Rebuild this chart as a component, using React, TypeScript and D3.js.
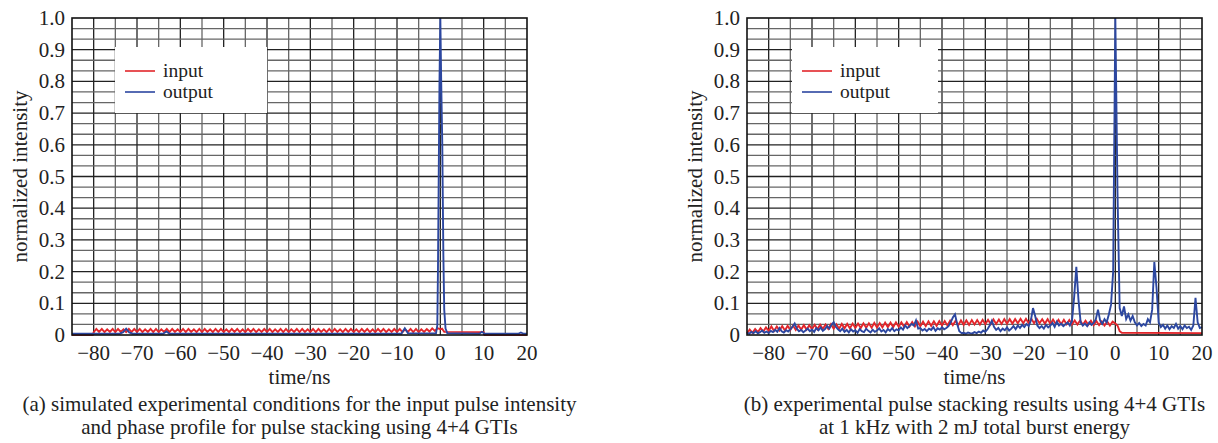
import React from "react";
import * as d3 from "d3";

// axis ticks
const xTicks = [-80, -70, -60, -50, -40, -30, -20, -10, 0, 10, 20];
const xTickLabels = ["\u221280", "\u221270", "\u221260", "\u221250", "\u221240", "\u221230", "\u221220", "\u221210", "0", "10", "20"];
const yTicks = [0, 0.1, 0.2, 0.3, 0.4, 0.5, 0.6, 0.7, 0.8, 0.9, 1.0];
const yTickLabels = ["0", "0.1", "0.2", "0.3", "0.4", "0.5", "0.6", "0.7", "0.8", "0.9", "1.0"];
const seriesNames = ["input", "output"];

// (a) simulated: input ripple sampled every 0.625 ns from -80 ns to 0 ns
const simInputStart = -80;
const simInputStep = 0.625;
const simInputRipple = [
  0.009, 0.019, 0.010, 0.019, 0.009, 0.018, 0.010, 0.019,
  0.009, 0.019, 0.010, 0.018, 0.009, 0.019, 0.010, 0.019,
  0.010, 0.019, 0.009, 0.018, 0.010, 0.019, 0.009, 0.019,
  0.009, 0.018, 0.010, 0.019, 0.009, 0.019, 0.010, 0.018,
  0.010, 0.019, 0.009, 0.019, 0.010, 0.018, 0.009, 0.019,
  0.009, 0.019, 0.010, 0.018, 0.009, 0.019, 0.010, 0.019,
  0.010, 0.018, 0.009, 0.019, 0.010, 0.019, 0.009, 0.018,
  0.009, 0.019, 0.010, 0.019, 0.009, 0.018, 0.010, 0.019,
  0.010, 0.019, 0.009, 0.018, 0.010, 0.019, 0.009, 0.019,
  0.009, 0.018, 0.010, 0.019, 0.009, 0.019, 0.010, 0.018,
  0.010, 0.019, 0.009, 0.019, 0.010, 0.018, 0.009, 0.019,
  0.009, 0.019, 0.010, 0.018, 0.009, 0.019, 0.010, 0.019,
  0.010, 0.018, 0.009, 0.019, 0.010, 0.019, 0.009, 0.018,
  0.009, 0.019, 0.010, 0.019, 0.009, 0.018, 0.010, 0.019,
  0.010, 0.019, 0.009, 0.018, 0.010, 0.019, 0.009, 0.019,
  0.009, 0.018, 0.010, 0.019, 0.011, 0.021, 0.013, 0.022,
  0.018,
];
const simInputHead: [number, number][] = [[-85, 0], [-80.2, 0]];
const simInputTail: [number, number][] = [[0.4, 0.02], [0.9, 0.01], [10, 0.009], [10.2, 0], [20, 0]];

const simOutput: [number, number][] = [
  [-85, 0.004], [-74, 0.004], [-73.2, 0.009], [-72.5, 0.02], [-71.8, 0.008], [-71, 0.004],
  [-64, 0.004], [-63.2, 0.011], [-62.5, 0.004], [-9, 0.004], [-8.2, 0.021], [-7.5, 0.006],
  [-1, 0.005], [-0.7, 0.03], [-0.55, 0.2], [-0.4, 0.45], [-0.2, 0.79], [0, 1.0], [0.2, 0.8],
  [0.45, 0.6], [0.7, 0.25], [0.9, 0.08], [1.2, 0.02], [1.6, 0.006], [9, 0.004], [9.6, 0.01],
  [10.2, 0.004], [18, 0.004], [18.6, 0.008], [19.2, 0.004], [20, 0.004],
];

// (b) experimental: input sampled every 0.625 ns from -85 ns to 0 ns
const expInputStart = -85;
const expInputStep = 0.625;
const expInputRipple = [
  0.005, 0.017, 0.007, 0.019, 0.009, 0.022, 0.011, 0.024,
  0.013, 0.027, 0.013, 0.027, 0.014, 0.028, 0.014, 0.029,
  0.016, 0.030, 0.016, 0.030, 0.017, 0.031, 0.017, 0.031,
  0.018, 0.032, 0.018, 0.033, 0.019, 0.033, 0.019, 0.034,
  0.020, 0.034, 0.020, 0.035, 0.021, 0.035, 0.021, 0.036,
  0.022, 0.036, 0.022, 0.037, 0.023, 0.037, 0.023, 0.038,
  0.024, 0.038, 0.024, 0.039, 0.025, 0.039, 0.025, 0.040,
  0.026, 0.040, 0.026, 0.041, 0.027, 0.041, 0.027, 0.042,
  0.028, 0.042, 0.028, 0.043, 0.029, 0.043, 0.029, 0.044,
  0.030, 0.044, 0.030, 0.045, 0.031, 0.045, 0.031, 0.046,
  0.032, 0.046, 0.032, 0.047, 0.033, 0.047, 0.033, 0.048,
  0.034, 0.048, 0.034, 0.049, 0.035, 0.049, 0.035, 0.050,
  0.036, 0.050, 0.036, 0.050, 0.037, 0.051, 0.037, 0.051,
  0.037, 0.051, 0.037, 0.051, 0.037, 0.050, 0.036, 0.050,
  0.035, 0.049, 0.035, 0.048, 0.034, 0.048, 0.034, 0.047,
  0.033, 0.046, 0.033, 0.046, 0.032, 0.045, 0.032, 0.045,
  0.031, 0.044, 0.031, 0.043, 0.030, 0.043, 0.030, 0.042,
  0.036,
];
const expInputTail: [number, number][] = [[0.5, 0.03], [1.0, 0.012], [1.5, 0.007], [20, 0.006]];

// (b) experimental: output sampled every 0.5 ns from -85 ns to 20 ns
const expOutputStart = -85;
const expOutputStep = 0.5;
const expOutput = [
  0.008, 0.004, 0.010, 0.006, 0.012, 0.005, 0.009, 0.014, 0.007, 0.011,
  0.006, 0.013, 0.009, 0.016, 0.010, 0.022, 0.012, 0.008, 0.015, 0.011,
  0.018, 0.026, 0.036, 0.020, 0.012, 0.016, 0.009, 0.014, 0.020, 0.012,
  0.017, 0.010, 0.022, 0.015, 0.024, 0.013, 0.019, 0.028, 0.020, 0.032,
  0.040, 0.026, 0.018, 0.012, 0.020, 0.010, 0.016, 0.008, 0.018, 0.011,
  0.015, 0.007, 0.019, 0.012, 0.009, 0.020, 0.013, 0.008, 0.017, 0.010,
  0.014, 0.021, 0.011, 0.016, 0.008, 0.019, 0.013, 0.022, 0.012, 0.018,
  0.015, 0.024, 0.017, 0.030, 0.022, 0.028, 0.035, 0.030, 0.046, 0.020,
  0.022, 0.014, 0.019, 0.012, 0.020, 0.016, 0.025, 0.013, 0.021, 0.017,
  0.024, 0.018, 0.022, 0.028, 0.040, 0.055, 0.065, 0.035, 0.012, 0.006,
  0.007, 0.004, 0.008, 0.006, 0.005, 0.009, 0.006, 0.011, 0.007, 0.014,
  0.010, 0.018, 0.030, 0.045, 0.026, 0.016, 0.022, 0.012, 0.020, 0.015,
  0.024, 0.014, 0.020, 0.028, 0.018, 0.030, 0.022, 0.032, 0.025, 0.035,
  0.028, 0.045, 0.085, 0.060, 0.030, 0.022, 0.028, 0.020, 0.032, 0.024,
  0.030, 0.038, 0.026, 0.042, 0.030, 0.036, 0.028, 0.034, 0.040, 0.030,
  0.045, 0.120, 0.215, 0.110, 0.040, 0.030, 0.036, 0.028, 0.040, 0.032,
  0.038, 0.050, 0.080, 0.045, 0.035, 0.050, 0.040, 0.065, 0.095, 0.200,
  1.000, 0.450, 0.085, 0.060, 0.090, 0.050, 0.065, 0.045, 0.060, 0.040,
  0.030, 0.038, 0.028, 0.035, 0.030, 0.050, 0.040, 0.080, 0.230, 0.150,
  0.040, 0.025, 0.032, 0.020, 0.030, 0.018, 0.028, 0.022, 0.035, 0.020,
  0.028, 0.018, 0.030, 0.022, 0.026, 0.016, 0.030, 0.117, 0.040, 0.022,
  0.025,
];

const sampled = (start: number, step: number, vals: number[]): [number, number][] =>
  vals.map((v, i) => [start + i * step, v]);

const simIn: [number, number][] = [
  ...simInputHead,
  ...sampled(simInputStart, simInputStep, simInputRipple),
  ...simInputTail,
];
const expIn: [number, number][] = [...sampled(expInputStart, expInputStep, expInputRipple), ...expInputTail];
const expOut = sampled(expOutputStart, expOutputStep, expOutput);

const RED = "#e2262b";
const BLUE = "#2c47a0";
const FONT = "'Liberation Serif', 'Times New Roman', serif";
const FS = 21;
const LEGEND_FS = 19.5;

const top = 18;
const bottom = 335;

type PanelProps = {
  left: number;
  right: number;
  input: [number, number][];
  output: [number, number][];
  legendX: number;
  legendW: number;
  caption: string[];
};

const Panel = ({ left, right, input, output, legendX, legendW, caption }: PanelProps) => {
  const x = d3.scaleLinear().domain([-85, 20]).range([left, right]);
  const y = d3.scaleLinear().domain([0, 1]).range([bottom, top]);
  const line = d3
    .line<[number, number]>()
    .x((d) => x(d[0]))
    .y((d) => y(d[1]));

  const xGrid = d3.range(-80, 20, 5);
  const yGrid = d3.range(1, 30).map((i) => i / 30);
  const cx = (left + right) / 2;
  const bx = left + legendX;

  return (
    <g>
      {xGrid.map((t) => (
        <line
          key={"xg" + t}
          x1={x(t)}
          x2={x(t)}
          y1={top}
          y2={bottom}
          stroke={t % 10 === 0 ? "#222" : "#666"}
          strokeWidth={1.3}
        />
      ))}
      {yGrid.map((v, i) => (
        <line
          key={"yg" + i}
          x1={left}
          x2={right}
          y1={y(v)}
          y2={y(v)}
          stroke={(i + 1) % 3 === 0 ? "#222" : "#666"}
          strokeWidth={1.3}
        />
      ))}
      <rect x={bx} y={47} width={legendW} height={66} fill="#fff" />
      <path d={line(input) ?? ""} fill="none" stroke={RED} strokeWidth={1.9} />
      <path d={line(output) ?? ""} fill="none" stroke={BLUE} strokeWidth={1.9} />
      <rect x={left} y={top} width={right - left} height={bottom - top} fill="none" stroke="#111" strokeWidth={1.6} />
      {yTicks.map((v, i) => (
        <text key={"yt" + i} x={left - 7} y={y(v) + 7} textAnchor="end" fontSize={FS} fontFamily={FONT} fill="#222">
          {yTickLabels[i]}
        </text>
      ))}
      {xTicks.map((t, i) => (
        <text key={"xt" + i} x={x(t)} y={360} textAnchor="middle" fontSize={FS} fontFamily={FONT} fill="#222">
          {xTickLabels[i]}
        </text>
      ))}
      <text
        transform={`translate(${left - 45},${(top + bottom) / 2}) rotate(-90)`}
        textAnchor="middle"
        fontSize={FS}
        fontFamily={FONT}
        fill="#222"
      >
        normalized intensity
      </text>
      <text x={cx} y={384} textAnchor="middle" fontSize={FS} fontFamily={FONT} fill="#222">
        time/ns
      </text>
      {caption.map((c, i) => (
        <text key={"c" + i} x={cx} y={411 + i * 23} textAnchor="middle" fontSize={FS} fontFamily={FONT} fill="#222">
          {c}
        </text>
      ))}
      {seriesNames.map((n, i) => (
        <g key={n}>
          <line x1={bx + 10} x2={bx + 40} y1={71 + i * 21} y2={71 + i * 21} stroke={i === 0 ? RED : BLUE} strokeWidth={1.6} />
          <text x={bx + 48} y={77 + i * 21} fontSize={LEGEND_FS} fontFamily={FONT} fill="#222">
            {n}
          </text>
        </g>
      ))}
    </g>
  );
};

export default function App() {
  return (
    <svg width={1218} height={443} style={{ position: "absolute", left: 0, top: 0, background: "#fff" }}>
      <rect width={1218} height={443} fill="#fff" />
      <Panel
        left={72}
        right={527}
        input={simIn}
        output={simOutput}
        legendX={43}
        legendW={152}
        caption={[
          "(a) simulated experimental conditions for the input pulse intensity",
          "and phase profile for pulse stacking using 4+4 GTIs",
        ]}
      />
      <Panel
        left={747}
        right={1202}
        input={expIn}
        output={expOut}
        legendX={45}
        legendW={146}
        caption={[
          "(b) experimental pulse stacking results using 4+4 GTIs",
          "at 1 kHz with 2 mJ total burst energy",
        ]}
      />
    </svg>
  );
}
